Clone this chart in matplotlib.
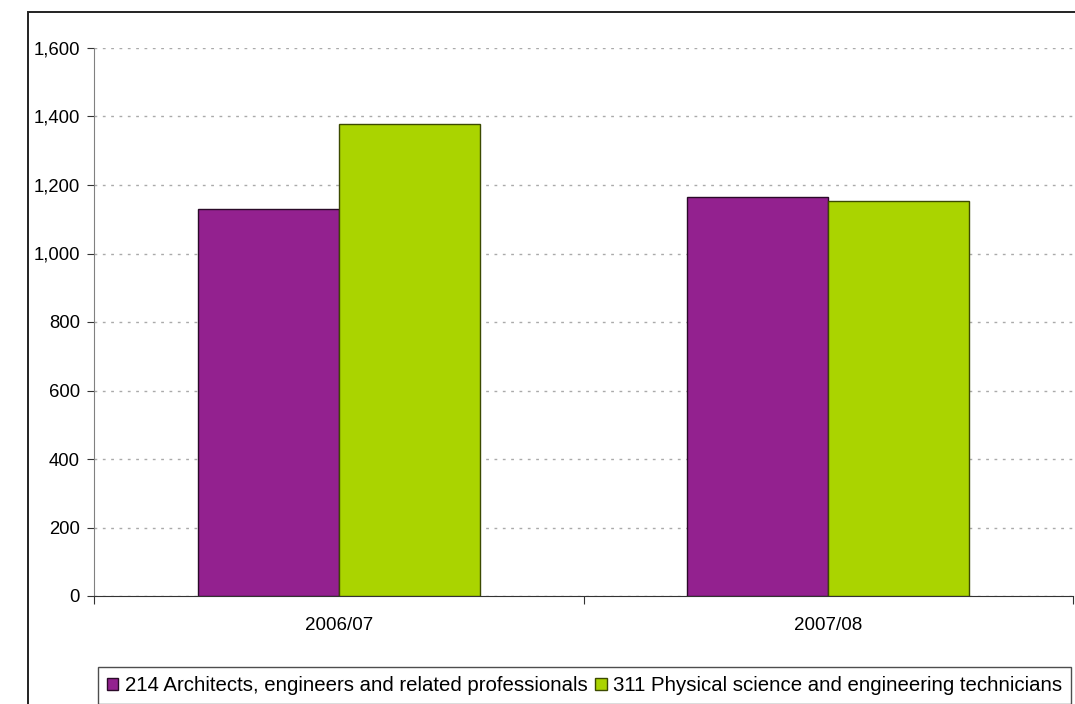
import matplotlib.pyplot as plt
from matplotlib.patches import Patch, Rectangle
from matplotlib import ticker
import numpy as np

plt.rcParams["font.family"] = ["Liberation Sans", "DejaVu Sans"]

years = ["2006/07", "2007/08"]
architects = [1129, 1166]
technicians = [1378, 1154]
series_labels = [
    "214 Architects, engineers and related professionals",
    "311 Physical science and engineering technicians",
]
purple = "#93218F"
green = "#AAD400"

W, H = 1075, 704
fig = plt.figure(figsize=(W / 100, H / 100), dpi=100)

# outer chart frame (runs off the right and bottom)
fig.patches.append(
    Rectangle((28 / W, -0.05), 1.2, 1 - 12 / H + 0.05, transform=fig.transFigure,
              fill=False, edgecolor="#222222", linewidth=1.4, zorder=0)
)

ax = fig.add_axes([94 / W, 1 - 596 / H, (1073 - 94) / W, (596 - 48) / H])

x = np.arange(len(years))
w = 0.288
ax.bar(x - w / 2, architects, w, color=purple, edgecolor="#2a0a28", linewidth=1.0, zorder=3)
ax.bar(x + w / 2, technicians, w, color=green, edgecolor="#3c4a00", linewidth=1.0, zorder=3)

ax.set_xlim(-0.5, 1.5)
ax.set_ylim(0, 1600)
ax.yaxis.set_major_locator(ticker.MultipleLocator(200))
ax.yaxis.set_major_formatter(ticker.FuncFormatter(lambda v, p: f"{int(v):,}"))
ax.grid(axis="y", color="#aaaaaa", linestyle=(0, (2, 4)), linewidth=1.0, zorder=0)

# category boundary ticks, labels centred between them
ax.set_xticks([-0.5, 0.5, 1.5])
ax.set_xticklabels([])
ax.set_xticks(x, minor=True)
ax.set_xticklabels(years, minor=True)
ax.tick_params(axis="x", which="major", direction="out", length=6, color="#333333")
ax.tick_params(axis="x", which="minor", length=0, pad=15, labelsize=13.5)
ax.tick_params(axis="y", direction="out", length=5, color="#333333", pad=5, labelsize=13.3)

for s in ["top", "right"]:
    ax.spines[s].set_visible(False)
ax.spines["left"].set_color("#808080")
ax.spines["bottom"].set_color("#333333")

handles = [
    Patch(facecolor=purple, edgecolor="#2a0a28", linewidth=1.0),
    Patch(facecolor=green, edgecolor="#3c4a00", linewidth=1.0),
]
leg = fig.legend(handles, series_labels, loc="upper left",
                 bbox_to_anchor=(98 / W, 1 - 667 / H), ncol=2, fontsize=14.7,
                 frameon=True, fancybox=False, edgecolor="#222222",
                 handlelength=0.55, handleheight=0.55, handletextpad=0.3,
                 columnspacing=0.4, borderpad=0.45, borderaxespad=0)
leg.get_frame().set_linewidth(1.0)

fig.savefig("out.png", dpi=100)
